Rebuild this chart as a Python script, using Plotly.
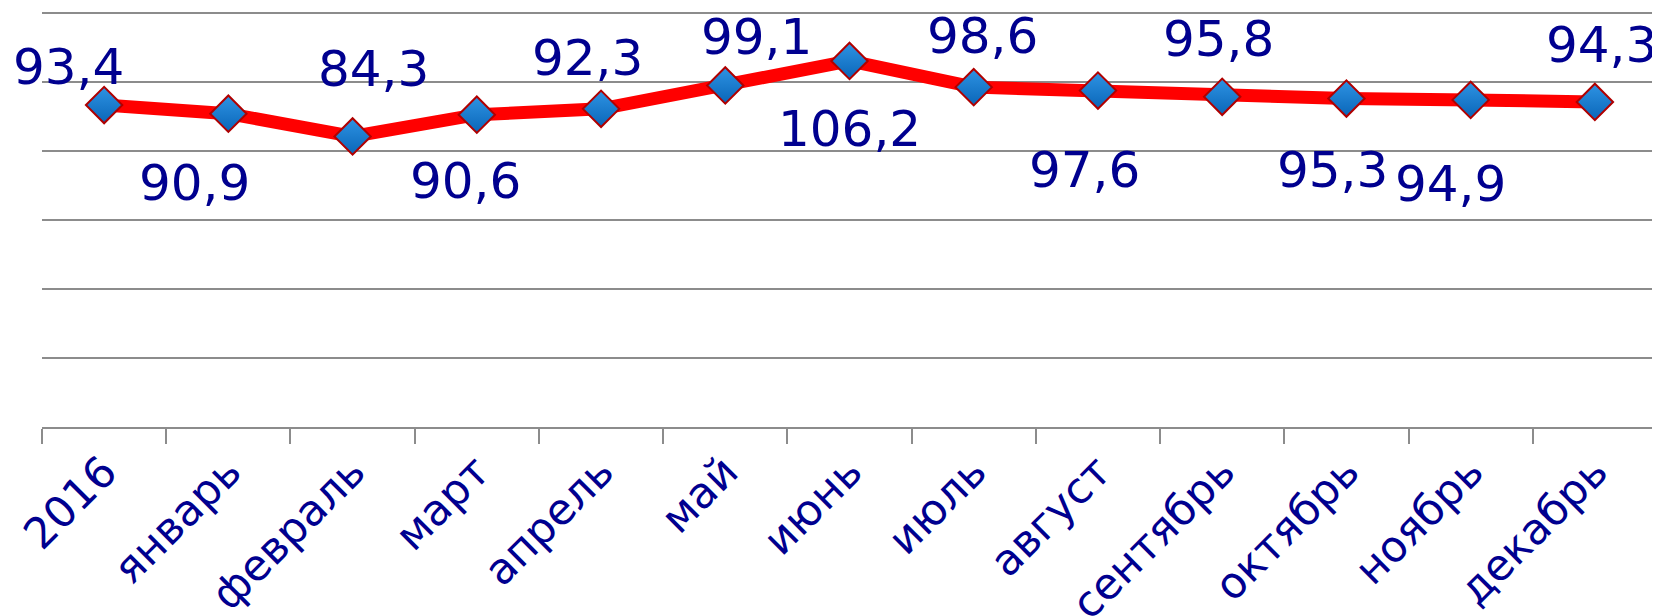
import plotly.graph_objects as go

categories = ["2016", "январь", "февраль", "март", "апрель", "май", "июнь",
              "июль", "август", "сентябрь", "октябрь", "ноябрь", "декабрь"]
values = [93.4, 90.9, 84.3, 90.6, 92.3, 99.1, 106.2, 98.6, 97.6, 95.8, 95.3, 94.9, 94.3]

# label offsets (pixels) relative to each point: (dx, dy) with dy positive = down
label_dx = [-36, -34, 21, -11, -14, 31, 0, 9, -13, -4, -14, -20, 7]
label_dy = [-38, 69, -67, 66, -51, -48, 68, -51, 79, -58, 71, 84, -57]

NAVY = "#00008f"
GRID = "#8c8c8c"
FONT = "DejaVu Sans"

fig = go.Figure()
fig.add_trace(go.Scatter(
    x=categories, y=values, mode="lines+markers",
    line=dict(color="#ff0000", width=13),
    marker=dict(symbol="diamond", size=28, color="#2e93e3",
                gradient=dict(type="vertical", color="#0a66b8"),
                line=dict(color="#b00000", width=2)),
    hoverinfo="skip", showlegend=False, cliponaxis=False,
))

for i, (v, dx, dy) in enumerate(zip(values, label_dx, label_dy)):
    fig.add_annotation(
        x=i, y=v, text=f"{v:.1f}".replace(".", ","), showarrow=False,
        xshift=dx, yshift=-dy, xanchor="center", yanchor="middle",
        font=dict(family=FONT, size=50, color=NAVY),
    )

# page body has an 8px default margin: compensate in the figure margins
fig.update_layout(
    width=1660, height=616,
    margin=dict(l=34, r=11, t=4, b=197),
    paper_bgcolor="white", plot_bgcolor="white",
    xaxis=dict(
        type="category", range=[-0.5, len(categories) - 0.5],
        tickson="boundaries", ticks="outside", ticklen=15, tickwidth=2,
        tickcolor=GRID, showline=True, linecolor=GRID, linewidth=2,
        showgrid=False, tickangle=-45, automargin=False,
        tickfont=dict(family=FONT, size=43, color=NAVY),
    ),
    yaxis=dict(
        range=[0, 120.4], tickvals=[20, 40, 60, 80, 100, 120], showticklabels=False,
        showgrid=True, gridcolor=GRID, gridwidth=2, zeroline=False,
        fixedrange=True, automargin=False,
    ),
)

fig.write_html("out.html")
